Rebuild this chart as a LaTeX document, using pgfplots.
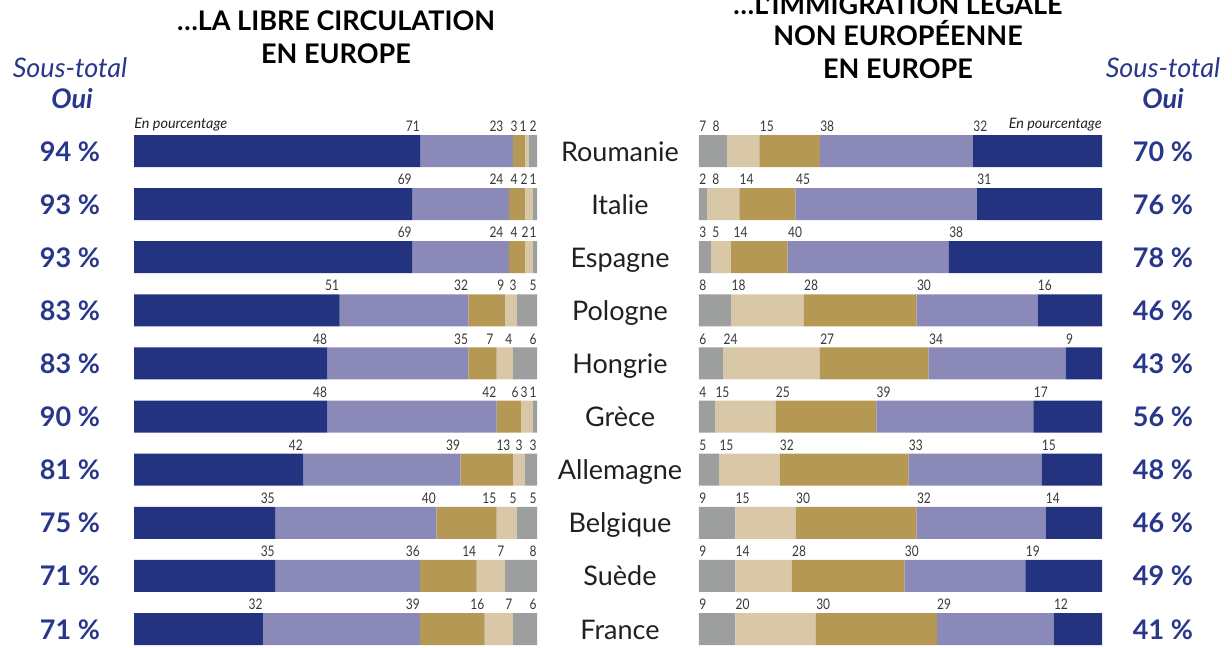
\documentclass[border=0pt]{standalone}
\usepackage{pgfplots}
\pgfplotsset{compat=1.18}
\usepackage{pgfplotstable}
\usepackage{fontspec}
\setmainfont{Lato}
\newfontfamily\numfam[FakeStretch=0.82]{Lato}
\definecolor{cdark}{RGB}{35,51,128}
\definecolor{cpurple}{RGB}{139,137,184}
\definecolor{cgold}{RGB}{181,152,83}
\definecolor{cbeige}{RGB}{216,200,167}
\definecolor{cgray}{RGB}{157,159,158}
\definecolor{cnavy}{RGB}{40,55,140}
\definecolor{ctext}{RGB}{35,31,32}
\definecolor{cnum}{RGB}{55,55,55}
\newcommand{\titlefont}{\fontsize{13.5}{16}\selectfont\bfseries}
\newcommand{\bigfont}{\fontsize{13.5}{16}\selectfont}
\newcommand{\smallfont}{\fontsize{7.2}{8}\selectfont}
\newcommand{\numfont}{\numfam\fontsize{7.3}{8}\selectfont}

% left chart: a = oui tout a fait, b = oui plutot, c = non plutot, d = non pas du tout, e = nsp ; o* = label offsets (px)
\pgfplotstableread{
y a  b  c  d e oa ob oc od oe
0 71 23 3  1 2 0 -9 -7 -2 0
1 69 24 4  2 1 0 -5 -7 -5 0
2 69 24 4  2 1 0 -5 -7 -4 0
3 51 32 9  3 5 0 0 0 0 0
4 48 35 7  4 6 0 0 -3 0 0
5 48 42 6  3 1 0 0 -2 -5 0
6 42 39 13 3 3 0 0 -2 -2 0
7 35 40 15 5 5 0 0 0 0 0
8 35 36 14 7 8 0 0 0 0 0
9 32 39 16 7 6 0 0 0 0 0
}\lefttab

% right chart (reversed x): a = oui tout a fait (right), ..., e = nsp (left)
\pgfplotstableread{
y a  b  c  d  e oa ob oc od oe
0 32 38 15 8  7 0 0 0 -15 0
1 31 45 14 8  2 0 0 0 5 0
2 38 40 14 5  3 0 0 2 1 0
3 16 30 28 18 8 0 0 0 0 0
4 9  34 27 24 6 0 0 0 0 0
5 17 39 25 15 4 0 0 0 0 0
6 15 33 32 15 5 0 0 0 0 0
7 14 32 30 15 9 0 0 0 0 0
8 19 30 28 14 9 0 0 0 0 0
9 12 29 30 20 9 0 0 0 0 0
}\righttab

\pgfplotsset{
  mybar/.style={
    xbar stacked, bar width=16pt, scale only axis,
    width=201.5pt, height=265.55pt,
    xmin=0, xmax=100, ymin=-0.5, ymax=9.5, y dir=reverse,
    axis line style={draw=none}, tick style={draw=none}, xtick=\empty,
    ytick={0,...,9},
    point meta=explicit,
    /pgf/number format/assume math mode=true,
    nodes near coords,
    nodes near coords style={font=\numfont, text=cnum, inner sep=0pt},
    clip=false,
  },
}

\begin{document}
\begin{tikzpicture}
\useasboundingbox (0,0) rectangle (616pt,-324pt);
% titles
\node[anchor=base, font=\titlefont] at (168pt,-15pt) {…LA LIBRE CIRCULATION};
\node[anchor=base, font=\titlefont] at (168pt,-31.5pt) {EN EUROPE};
\node[anchor=base, font=\titlefont] at (449pt,-7pt) {…L’IMMIGRATION LÉGALE};
\node[anchor=base, font=\titlefont] at (449pt,-23pt) {NON EUROPÉENNE};
\node[anchor=base, font=\titlefont] at (449pt,-39pt) {EN EUROPE};
% sous-total
\node[anchor=base, font=\bigfont\itshape, text=cnavy] at (35pt,-38.5pt) {Sous-total};
\node[anchor=base, font=\bigfont\bfseries\itshape, text=cnavy] at (36pt,-54pt) {Oui};
\node[anchor=base, font=\bigfont\itshape, text=cnavy] at (581.5pt,-38.5pt) {Sous-total};
\node[anchor=base, font=\bigfont\bfseries\itshape, text=cnavy] at (581.5pt,-54pt) {Oui};

% left chart
\begin{axis}[mybar, at={(67pt,-62.225pt)}, anchor=north west,
  yticklabels={94 \%,93 \%,93 \%,83 \%,83 \%,90 \%,81 \%,75 \%,71 \%,71 \%},
  yticklabel style={font=\bigfont\bfseries, text=cnavy, anchor=base, xshift=-32pt, yshift=-5pt},
  every node near coord/.append style={anchor=base east, yshift=9.7pt, xshift=\off*0.5pt+\val*1.0075pt},
]
\addplot[fill=cdark, draw=none, visualization depends on={\thisrow{oa} \as \off}, visualization depends on={\thisrow{a} \as \val}] table[x=a,y=y,meta=a]{\lefttab};
\addplot[fill=cpurple, draw=none, visualization depends on={\thisrow{ob} \as \off}, visualization depends on={\thisrow{b} \as \val}] table[x=b,y=y,meta=b]{\lefttab};
\addplot[fill=cgold, draw=none, visualization depends on={\thisrow{oc} \as \off}, visualization depends on={\thisrow{c} \as \val}] table[x=c,y=y,meta=c]{\lefttab};
\addplot[fill=cbeige, draw=none, visualization depends on={\thisrow{od} \as \off}, visualization depends on={\thisrow{d} \as \val}] table[x=d,y=y,meta=d]{\lefttab};
\addplot[fill=cgray, draw=none, visualization depends on={\thisrow{oe} \as \off}, visualization depends on={\thisrow{e} \as \val}] table[x=e,y=y,meta=e]{\lefttab};
\node[anchor=base west, inner sep=0pt, font=\smallfont\itshape, text=ctext, yshift=11.5pt] at (axis cs:0,0) {En pourcentage};
\end{axis}

% right chart
\begin{axis}[mybar, at={(349.5pt,-62.225pt)}, anchor=north west, x dir=reverse,
  yticklabel pos=right,
  yticklabels={70 \%,76 \%,78 \%,46 \%,43 \%,56 \%,48 \%,46 \%,49 \%,41 \%},
  yticklabel style={font=\bigfont\bfseries, text=cnavy, anchor=base, xshift=30.5pt, yshift=-5pt},
  every node near coord/.append style={anchor=base west, yshift=9.7pt, xshift=\off*0.5pt-\val*1.0075pt},
]
\addplot[fill=cdark, draw=none, visualization depends on={\thisrow{oa} \as \off}, visualization depends on={\thisrow{a} \as \val}] table[x=a,y=y,meta=a]{\righttab};
\addplot[fill=cpurple, draw=none, visualization depends on={\thisrow{ob} \as \off}, visualization depends on={\thisrow{b} \as \val}] table[x=b,y=y,meta=b]{\righttab};
\addplot[fill=cgold, draw=none, visualization depends on={\thisrow{oc} \as \off}, visualization depends on={\thisrow{c} \as \val}] table[x=c,y=y,meta=c]{\righttab};
\addplot[fill=cbeige, draw=none, visualization depends on={\thisrow{od} \as \off}, visualization depends on={\thisrow{d} \as \val}] table[x=d,y=y,meta=d]{\righttab};
\addplot[fill=cgray, draw=none, visualization depends on={\thisrow{oe} \as \off}, visualization depends on={\thisrow{e} \as \val}] table[x=e,y=y,meta=e]{\righttab};
\node[anchor=base east, inner sep=0pt, font=\smallfont\itshape, text=ctext, yshift=11.5pt] at (axis cs:0,0) {En pourcentage};
% country names
\node[anchor=base, font=\bigfont, text=ctext, xshift=-39.5pt, yshift=-5pt] at (axis cs:100,0) {Roumanie};
\node[anchor=base, font=\bigfont, text=ctext, xshift=-39.5pt, yshift=-5pt] at (axis cs:100,1) {Italie};
\node[anchor=base, font=\bigfont, text=ctext, xshift=-39.5pt, yshift=-5pt] at (axis cs:100,2) {Espagne};
\node[anchor=base, font=\bigfont, text=ctext, xshift=-39.5pt, yshift=-5pt] at (axis cs:100,3) {Pologne};
\node[anchor=base, font=\bigfont, text=ctext, xshift=-39.5pt, yshift=-5pt] at (axis cs:100,4) {Hongrie};
\node[anchor=base, font=\bigfont, text=ctext, xshift=-39.5pt, yshift=-5pt] at (axis cs:100,5) {Grèce};
\node[anchor=base, font=\bigfont, text=ctext, xshift=-39.5pt, yshift=-5pt] at (axis cs:100,6) {Allemagne};
\node[anchor=base, font=\bigfont, text=ctext, xshift=-39.5pt, yshift=-5pt] at (axis cs:100,7) {Belgique};
\node[anchor=base, font=\bigfont, text=ctext, xshift=-39.5pt, yshift=-5pt] at (axis cs:100,8) {Suède};
\node[anchor=base, font=\bigfont, text=ctext, xshift=-39.5pt, yshift=-5pt] at (axis cs:100,9) {France};
\end{axis}
\end{tikzpicture}
\end{document}
